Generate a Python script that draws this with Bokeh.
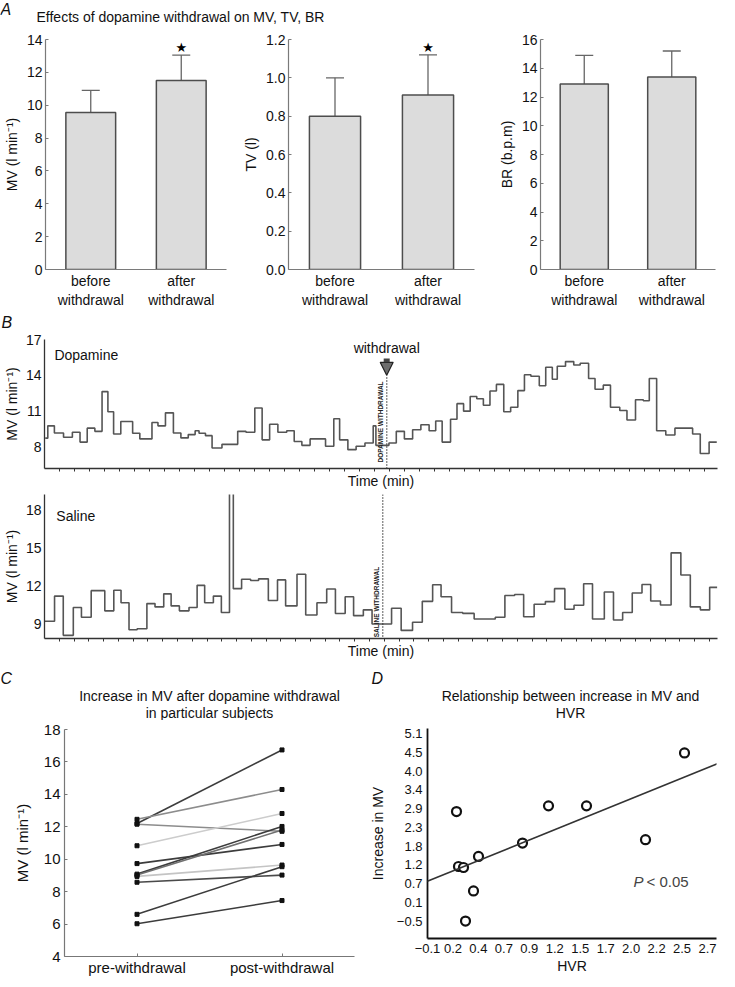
from math import pi
from bokeh.plotting import figure
from bokeh.layouts import column, row
from bokeh.models import (FactorRange, Range1d, FixedTicker, PrintfTickFormatter, Whisker, TeeHead,
                          ColumnDataSource, Label, Slope, Span, Arrow, NormalHead)
from bokeh.core.properties import value
from bokeh.embed import file_html
from bokeh.resources import INLINE

FONT = "Liberation Sans"

# ---------------- data ----------------
bar_categories = ["before\nwithdrawal", "after\nwithdrawal"]
mv_mean = [9.55, 11.5]
mv_err = [1.35, 1.55]
mv_sig = [False, True]
tv_mean = [0.80, 0.91]
tv_err = [0.20, 0.21]
tv_sig = [False, True]
br_mean = [12.9, 13.4]
br_err = [2.0, 1.8]
br_sig = [False, False]
mv_ticks = [0, 2, 4, 6, 8, 10, 12, 14]
tv_ticks = [0.0, 0.2, 0.4, 0.6, 0.8, 1.0, 1.2]
br_ticks = [0, 2, 4, 6, 8, 10, 12, 14, 16]

# panel B: step traces (time in min, MV in l/min)
dop_t = [0.05, 0.22, 0.66, 1.27, 1.86, 2.37, 2.85, 3.36, 3.84, 4.23, 4.61, 5.09, 5.88, 6.36,
         7.17, 7.57, 8.07, 8.6, 9.1, 9.59, 10.05, 10.31, 10.74, 11.18, 11.84, 12.89, 13.44,
         14.03, 14.52, 15.02, 15.57, 16.16, 16.66, 17.17, 17.72, 18.75, 19.3, 19.69, 20.24,
         20.79, 21.38, 21.93, 22.11, 22.98, 23.47, 24.01, 24.56, 25.11, 25.66, 26.1, 26.53,
         27.09, 27.52, 27.96, 28.4, 28.84, 29.28, 29.72, 30.15, 30.64, 31.1, 31.58, 32.02,
         32.45, 33.01, 33.44, 33.88, 34.21, 34.76, 35.31, 35.74, 36.3, 36.73, 37.28, 37.76,
         38.38, 38.86, 39.43, 39.95, 40.35, 40.84, 41.45, 42.06, 43.24, 43.75, 44.34, 44.85]
dop_mv = [8.74, 9.77, 9.17, 8.82, 9.23, 8.41, 9.58, 9.31, 12.64, 10.95, 9.09, 10.13, 9.15, 8.68,
          10.05, 9.77, 10.86, 9.17, 8.76, 9.04, 9.36, 9.15, 8.95, 7.92, 8.22, 9.31, 9.23,
          11.27, 8.6, 9.91, 9.23, 9.36, 8.46, 8.14, 8.68, 8.06, 10.37, 8.6, 7.78,
          8.06, 8.33, 9.77, 8.14, 8.33, 9.31, 8.68, 9.45, 9.86, 9.36, 10.18, 8.41,
          10.32, 11.63, 11.0, 12.23, 12.04, 11.49, 12.69, 13.24, 10.95, 11.33, 12.72, 14.05,
          13.92, 13.13, 14.68, 13.67, 14.76, 15.15, 14.87, 15.01, 13.73, 12.83, 13.18, 11.33,
          11.05, 10.26, 11.95, 11.87, 13.73, 9.36, 9.01, 9.58, 9.09, 7.45, 8.41, 8.41]
sal_t = [0.0, 0.68, 1.27, 1.95, 2.5, 3.16, 4.08, 4.69, 5.18, 5.72, 6.27, 6.93, 7.48, 8.07,
         8.57, 9.13, 9.78, 10.33, 10.84, 11.43, 11.97, 12.52, 12.78, 13.34, 13.95, 14.49,
         15.15, 15.77, 16.32, 17.09, 17.68, 18.44, 19.1, 19.69, 20.35, 20.92, 21.58, 22.17,
         23.49, 24.14, 24.91, 25.57, 26.27, 26.84, 27.55, 28.31, 29.08, 30.51, 31.16, 31.82,
         32.43, 33.14, 33.9, 34.52, 35.22, 35.84, 36.49, 37.09, 37.89, 38.51, 39.13, 39.78,
         40.44, 41.03, 41.69, 42.41, 43.07, 43.71, 44.39, 45.02, 45.53]
sal_mv = [9.21, 11.19, 8.1, 10.29, 9.52, 11.62, 10.03, 11.65, 10.67, 8.54, 8.62, 10.6, 10.34, 11.37,
          10.42, 10.03, 10.29, 12.04, 10.67, 11.19, 9.9, 25.0, 11.78, 12.52, 12.42, 12.55,
          10.85, 12.47, 10.42, 12.91, 9.7, 10.67, 11.75, 9.82, 11.14, 9.65, 10.11, 8.99,
          10.24, 8.49, 9.13, 10.78, 12.09, 11.14, 9.9, 9.83, 9.39, 9.52, 11.24, 11.32,
          9.57, 10.55, 10.76, 11.78, 10.16, 10.47, 12.17, 9.39, 11.52, 9.31, 9.9, 11.44,
          12.11, 10.8, 10.49, 14.6, 12.86, 10.34, 10.11, 11.88, 11.88]
dop_withdrawal_t = 22.83
sal_withdrawal_t = 22.89
dop_ticks = [8, 11, 14, 17]
sal_ticks = [9, 12, 15, 18]
time_ticks = list(range(1, 46))

# panel C: paired subjects
c_categories = ["pre-withdrawal", "post-withdrawal"]
c_pre = [12.2, 12.46, 12.16, 10.83, 9.73, 9.08, 9.02, 8.94, 8.58, 6.6, 6.02]
c_post = [16.74, 14.3, 11.72, 12.82, 10.91, 12.02, 11.8, 9.64, 9.02, 9.54, 7.45]
c_shades = ["#3c3c3c", "#8c8c8c", "#8c8c8c", "#cccccc", "#3c3c3c", "#3c3c3c",
            "#707070", "#c4c4c4", "#4a4a4a", "#3c3c3c", "#3c3c3c"]
c_ticks = [4, 6, 8, 10, 12, 14, 16, 18]

# panel D: scatter
hvr = [0.19, 0.21, 0.26, 0.41, 0.36, 0.28, 0.85, 1.11, 1.49, 2.08, 2.47]
mv_increase = [2.77, 1.13, 1.10, 1.43, 0.40, -0.50, 1.83, 2.94, 2.94, 1.93, 4.52]
fit_slope = 1.21
fit_intercept = 0.81
d_y_ticks = [-0.5, 0.06, 0.62, 1.18, 1.74, 2.30, 2.86, 3.42, 3.98, 4.54, 5.10]
d_y_labels = ["\u22120.5", "0.1", "0.7", "1.2", "1.8", "2.3", "2.9", "3.4", "4.0", "4.5", "5.1"]
d_x_ticks = [-0.1, 0.155, 0.409, 0.664, 0.918, 1.173, 1.427, 1.682, 1.936, 2.191, 2.445, 2.7]
d_x_labels = ["\u22120.1", "0.2", "0.4", "0.7", "0.9", "1.2", "1.5", "1.7", "2.0", "2.2", "2.5", "2.7"]


# ---------------- helpers ----------------
def base_fig(width, height, x_range, y_range, left, right, top, bottom):
    p = figure(width=width, height=height, x_range=x_range, y_range=y_range,
               toolbar_location=None, output_backend="svg", title=None)
    p.min_border_left = left
    p.min_border_right = right
    p.min_border_top = top
    p.min_border_bottom = bottom
    p.grid.visible = False
    p.outline_line_color = None
    return p


def strip(width, height):
    s = figure(width=width, height=height, x_range=Range1d(0, 1), y_range=Range1d(0, 1),
               toolbar_location=None, output_backend="svg", x_axis_location=None,
               y_axis_location=None, min_border=0, title=None)
    s.grid.visible = False
    s.outline_line_color = None
    return s


def strip_text(s, x, y, text, size="14px", style="normal", align="left", baseline="middle"):
    s.add_layout(Label(x=x, y=y, x_units="screen", y_units="screen", text=text,
                       text_font=FONT, text_font_size=size, text_font_style=style,
                       text_align=align, text_baseline=baseline, text_color="#111111"))


def style_axis(ax, color, lw, fs, tick_in=0, tick_out=0, lab_stand=4, axlab_stand=4, axfs=None):
    ax.axis_line_color = color
    ax.axis_line_width = lw
    ax.major_tick_line_color = color
    ax.major_tick_in = tick_in
    ax.major_tick_out = tick_out
    ax.minor_tick_line_color = None
    ax.major_label_text_font = FONT
    ax.major_label_text_font_size = fs
    ax.major_label_text_color = "#111111"
    ax.axis_label_text_font = FONT
    ax.axis_label_text_font_size = axfs or fs
    ax.axis_label_text_font_style = "normal"
    ax.axis_label_text_color = "#111111"
    ax.major_label_standoff = lab_stand
    ax.axis_label_standoff = axlab_stand


A_H = 280
A_TOP = 9
A_BOTTOM = 35


def bar_panel(width, left, right, means, errs, sig, ticks, ylabel, ymax, fmt=None):
    p = base_fig(width, A_H, FactorRange(factors=bar_categories), Range1d(0, ymax),
                 left, right, A_TOP, A_BOTTOM)
    upper = [m + e for m, e in zip(means, errs)]
    src = ColumnDataSource(dict(cat=bar_categories, mean=means, upper=upper))
    p.vbar(x="cat", top="mean", width=0.55, source=src, fill_color="#dcdcdc",
           line_color="#4d4d4d", line_width=1.5)
    p.add_layout(Whisker(source=src, base="cat", lower="mean", upper="upper",
                         dimension="height", line_color="#666666", line_width=1.3,
                         upper_head=TeeHead(size=18, line_color="#666666", line_width=1.3),
                         lower_head=None))
    sx = [c for c, s in zip(bar_categories, sig) if s]
    sy = [u for u, s in zip(upper, sig) if s]
    if sx:
        p.text(x=sx, y=sy, text=["\u2605"] * len(sx), text_font=value("DejaVu Sans"),
               text_font_size="13px", text_align="center", text_baseline="bottom",
               text_color="black")
    style_axis(p.xaxis[0], "#7a7a7a", 1.2, "14px", lab_stand=3)
    style_axis(p.yaxis[0], "#7a7a7a", 1.2, "14px", tick_in=3, lab_stand=3, axlab_stand=4)
    p.yaxis.ticker = FixedTicker(ticks=ticks)
    if fmt:
        p.yaxis.formatter = PrintfTickFormatter(format=fmt)
    p.yaxis.axis_label = ylabel
    return p


# ---------------- panel A ----------------
HDR_A = 30
hdr_a = strip(719, HDR_A)
strip_text(hdr_a, 0, HDR_A, "A", size="16px", style="italic", baseline="top")
strip_text(hdr_a, 36, HDR_A - 16, "Effects of dopamine withdrawal on MV, TV, BR")

a1 = bar_panel(238, 40, 12, mv_mean, mv_err, mv_sig, mv_ticks, "MV (l min\u207b\u00b9)", 14)
a2 = bar_panel(240, 50, 4, tv_mean, tv_err, tv_sig, tv_ticks, "TV (l)", 1.2, fmt="%.1f")
a3 = bar_panel(241, 62, 4, br_mean, br_err, br_sig, br_ticks, "BR (b.p.m)", 16)


# ---------------- panel B ----------------
def trace_panel(height, top, bottom, t, mv, xmax, yr, yticks):
    p = base_fig(719, height, Range1d(0, xmax), Range1d(*yr), 38, 2, top, bottom)
    p.step(t, mv, mode="after", line_color="#555555", line_width=1.6)
    style_axis(p.yaxis[0], "#333333", 1.3, "14px", tick_in=0, lab_stand=3, axlab_stand=3)
    p.yaxis.ticker = FixedTicker(ticks=yticks)
    p.yaxis.axis_label = "MV (l min\u207b\u00b9)"
    style_axis(p.xaxis[0], "#333333", 1.5, "14px", lab_stand=0, axlab_stand=1)
    p.xaxis.ticker = FixedTicker(ticks=[], minor_ticks=time_ticks)
    p.xaxis.minor_tick_line_color = "#333333"
    p.xaxis.minor_tick_out = 3
    p.xaxis.minor_tick_in = 0
    p.xaxis.axis_label = "Time (min)"
    return p


HDR_B = 20
hdr_b = strip(719, HDR_B)
strip_text(hdr_b, 1, 8, "B", size="16px", style="italic")

pb1 = trace_panel(161, 9, 22, dop_t, dop_mv, 44.9, (6.2, 17), dop_ticks)
pb1.segment(x0=[dop_withdrawal_t], y0=[6.2], x1=[dop_withdrawal_t], y1=[14.0],
            line_color="#222222", line_width=1.5, line_dash="1 2")
pb1.add_layout(Arrow(end=NormalHead(size=13, fill_color="#6e6e6e", line_color="#222222",
                                    line_width=1.2),
                     x_start=dop_withdrawal_t, y_start=15.4, x_end=dop_withdrawal_t, y_end=14.0,
                     line_color="#444444", line_width=6))
pb1.text(x=[dop_withdrawal_t], y=[16.3], text=["withdrawal"], text_font=value(FONT),
         text_font_size="14px", text_align="center", text_baseline="middle", text_color="#111111")
pb1.text(x=[dop_withdrawal_t - 0.4], y=[6.7], text=["DOPAMINE WITHDRAWAL"], angle=pi / 2,
         text_font=value(FONT), text_font_size="6.5px", text_font_style="bold",
         text_align="left", text_baseline="middle", text_color="#222222")
pb1.text(x=[0.66], y=[15.7], text=["Dopamine"], text_font=value(FONT), text_font_size="14px",
         text_align="left", text_baseline="middle", text_color="#111111")

pb2 = trace_panel(170, 3, 22, sal_t, sal_mv, 45.55, (7.85, 19.2), sal_ticks)
pb2.add_layout(Span(location=sal_withdrawal_t, dimension="height", line_color="#222222",
                    line_width=1.5, line_dash="1 2"))
pb2.text(x=[sal_withdrawal_t - 0.4], y=[7.95], text=["SALINE WITHDRAWAL"], angle=pi / 2,
         text_font=value(FONT), text_font_size="6.5px", text_font_style="bold",
         text_align="left", text_baseline="middle", text_color="#222222")
pb2.text(x=[0.8], y=[17.5], text=["Saline"], text_font=value(FONT), text_font_size="14px",
         text_align="left", text_baseline="middle", text_color="#111111")

# ---------------- panels C and D header ----------------
CD_HDR = 59
CD_H = 258
hdr_cd = strip(719, CD_HDR)
strip_text(hdr_cd, 0, 42, "C", size="16px", style="italic")
strip_text(hdr_cd, 209, 25, "Increase in MV after dopamine withdrawal", align="center")
strip_text(hdr_cd, 209, 8, "in particular subjects", align="center")
strip_text(hdr_cd, 371, 42, "D", size="16px", style="italic")
strip_text(hdr_cd, 570, 25, "Relationship between increase in MV and", align="center")
strip_text(hdr_cd, 570, 8, "HVR", align="center")

# ---------------- panel C ----------------
pc = base_fig(366, CD_H, FactorRange(factors=c_categories), Range1d(4, 18), 64, 12, 9, 21)
csrc = ColumnDataSource(dict(xs=[[c_categories[0], c_categories[1]] for _ in c_pre],
                             ys=[[a, b] for a, b in zip(c_pre, c_post)], color=c_shades))
pc.multi_line(xs="xs", ys="ys", line_color="color", line_width=1.6, source=csrc)
pc.scatter(x=[c_categories[0]] * len(c_pre), y=c_pre, marker="square", size=4,
           color="#111111")
pc.scatter(x=[c_categories[1]] * len(c_post), y=c_post, marker="square", size=4,
           color="#111111")
style_axis(pc.xaxis[0], "#777777", 1.2, "15px", tick_in=3, lab_stand=2)
style_axis(pc.yaxis[0], "#777777", 1.2, "15px", tick_in=3, lab_stand=4, axlab_stand=10)
pc.yaxis.ticker = FixedTicker(ticks=c_ticks)
pc.yaxis.axis_label = "MV (l min\u207b\u00b9)"

# ---------------- panel D ----------------
pd_ = base_fig(353, CD_H, Range1d(-0.1, 2.79), Range1d(-1.02, 5.25), 59, 3, 8, 40)
pd_.add_layout(Slope(gradient=fit_slope, y_intercept=fit_intercept, line_color="#333333",
                     line_width=1.6))
pd_.scatter(hvr, mv_increase, marker="circle", size=9, fill_color="white",
            line_color="#111111", line_width=2.2)
style_axis(pd_.xaxis[0], "#111111", 1.8, "13px", lab_stand=5, axlab_stand=2, axfs="14px")
style_axis(pd_.yaxis[0], "#111111", 1.8, "13px", lab_stand=5, axlab_stand=8, axfs="14px")
pd_.xaxis.ticker = FixedTicker(ticks=d_x_ticks)
pd_.xaxis.major_label_overrides = dict(zip(d_x_ticks, d_x_labels))
pd_.yaxis.ticker = FixedTicker(ticks=d_y_ticks)
pd_.yaxis.major_label_overrides = dict(zip(d_y_ticks, d_y_labels))
pd_.xaxis.axis_label = "HVR"
pd_.yaxis.axis_label = "Increase in MV"
pd_.add_layout(Label(x=1.96, y=0.67, text="P", text_font=FONT, text_font_size="15px",
                     text_font_style="italic", text_baseline="middle"))
pd_.add_layout(Label(x=2.09, y=0.67, text="< 0.05", text_font=FONT, text_font_size="15px",
                     text_baseline="middle"))

layout = column(row(hdr_a), row(a1, a2, a3), row(hdr_b), pb1, pb2, row(hdr_cd),
                row(column(pc), column(pd_)))
open("out.html", "w").write(file_html(layout, INLINE))
